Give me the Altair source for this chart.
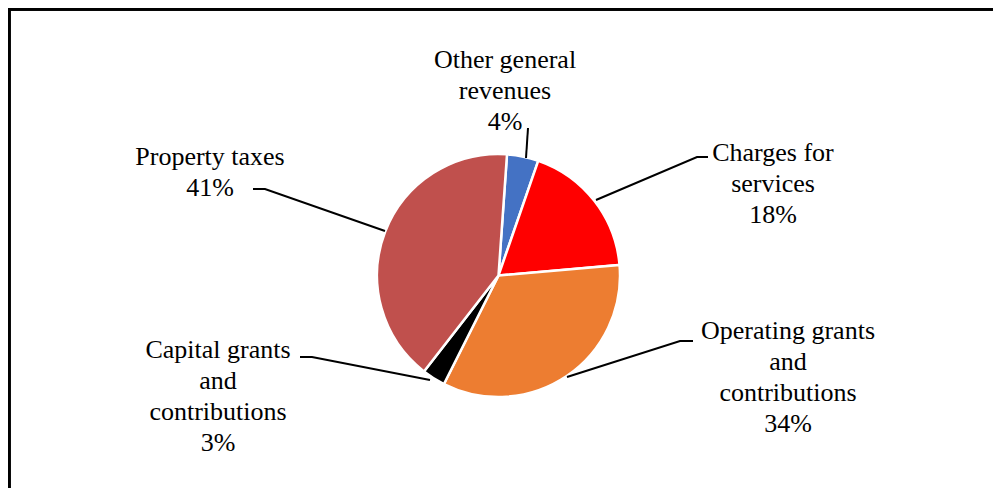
import math
import altair as alt
import pandas as pd

# ---- data ----
categories = [
    "Other general revenues",
    "Charges for services",
    "Operating grants and contributions",
    "Capital grants and contributions",
    "Property taxes",
]
values = [4.2, 18.3, 33.8, 3.1, 40.6]
label_text = [
    "Other general\nrevenues",
    "Charges for\nservices",
    "Operating grants\nand\ncontributions",
    "Capital grants\nand\ncontributions",
    "Property taxes",
]
colors = ["#4472C4", "#FF0000", "#ED7D31", "#000000", "#C0504D"]

# ---- layout (view pixel coordinates) ----
W, H = 985, 480
pie_cx, pie_cy, pie_r = 490.5, 267.5, 121.5
start = 0.07
label_anchor = [(497, 60), (765, 153), (780, 331), (210, 350), (202, 157)]
leaders = [
    [(520, 120), (518, 150)],
    [(700, 149), (689, 149), (588, 192)],
    [(685, 333), (672, 333), (559, 369)],
    [(292, 349), (304, 349), (422, 372)],
    [(245, 181), (257, 181), (377, 223)],
]

total = sum(values)
pie_df = pd.DataFrame({"category": categories, "value": values, "idx": range(len(values))})
lab_df = pd.DataFrame({
    "category": categories,
    "text": [f"{t}\n{round(v / total * 100)}%" for t, v in zip(label_text, values)],
    "x": [a[0] for a in label_anchor],
    "y": [a[1] for a in label_anchor],
})
rows = []
for cat, pts in zip(categories, leaders):
    for i, (px, py) in enumerate(pts):
        rows.append({"category": cat, "o": i, "x": px, "y": py})
lead_df = pd.DataFrame(rows)

pie = alt.Chart(pie_df).mark_arc(
    outerRadius=pie_r, stroke="white", strokeWidth=2.5
).encode(
    theta=alt.Theta("value:Q", stack=True,
                    scale=alt.Scale(range=[start, start + 2 * math.pi])),
    color=alt.Color("category:N", scale=alt.Scale(domain=categories, range=colors), legend=None),
    order=alt.Order("idx:Q"),
    x=alt.value(pie_cx),
    y=alt.value(pie_cy),
)

lines = alt.Chart(lead_df).mark_line(color="black", strokeWidth=2).encode(
    x=alt.X("x:Q", scale=None),
    y=alt.Y("y:Q", scale=None),
    detail="category:N",
    order="o:Q",
)

labels = alt.Chart(lab_df).mark_text(
    font="Liberation Serif", fontSize=26, lineHeight=31, color="black",
    align="center", baseline="alphabetic", lineBreak="\n",
).encode(
    x=alt.X("x:Q", scale=None),
    y=alt.Y("y:Q", scale=None),
    text="text:N",
)

frame_top = alt.Chart(pie_df).mark_rule(color="black", strokeWidth=2.5).encode(
    x=alt.value(0), x2=alt.value(W), y=alt.value(1.2)
)
frame_left = alt.Chart(pie_df).mark_rule(color="black", strokeWidth=2.5).encode(
    x=alt.value(1.2), y=alt.value(0), y2=alt.value(H)
)

chart = alt.layer(frame_top, frame_left, pie, lines, labels).properties(
    width=W, height=H, padding=0, autosize=alt.AutoSizeParams(type="none")
).configure_view(stroke=None).configure(background="white")

chart.save("out.html", embed_options={"renderer": "svg", "actions": False})
